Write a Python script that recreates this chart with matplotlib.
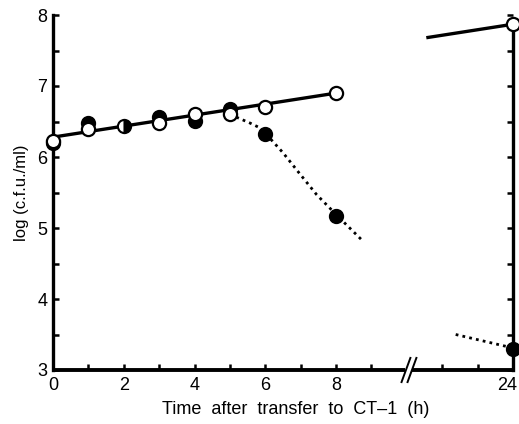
import matplotlib
matplotlib.use("Agg")
import matplotlib.pyplot as plt
import matplotlib.transforms as mtransforms
import numpy as np

plt.rcParams['font.family'] = ['Liberation Sans', 'DejaVu Sans']

# ---- data (hours, log c.f.u./ml) ----
open_t = [0, 1, 3, 4, 5, 6, 8, 24]
open_v = [6.22, 6.39, 6.48, 6.61, 6.60, 6.70, 6.90, 7.87]
filled_t = [0, 1, 3, 4, 5, 6, 8, 24]
filled_v = [6.20, 6.48, 6.57, 6.51, 6.68, 6.33, 5.17, 3.30]
half_t = [2]
half_v = [6.44]
fit_early_t = [0, 8]
fit_early_v = [6.28, 6.90]
fit_late_t = [21.55, 24]
fit_late_v = [7.68, 7.87]
decline_t = [5.0, 5.56, 5.85, 6.01, 6.50, 6.98, 7.45, 8.04, 8.73]
decline_v = [6.60, 6.48, 6.41, 6.33, 6.06, 5.76, 5.47, 5.17, 4.83]
decline_late_t = [22.38, 24]
decline_late_v = [3.50, 3.31]
xtick_major = [0, 2, 4, 6, 8, 24]
xtick_minor = [1, 3, 5, 7, 9, 22, 23]


def disp(t):
    t = np.asarray(t, dtype=float)
    return np.where(t > 15, t - 11, t)


fig = plt.figure(figsize=(5.19, 4.24), dpi=100)
ax = fig.add_axes([53 / 519, (424 - 370) / 424, 460 / 519, (370 - 15) / 424])
ax.set_xlim(0, 13)
ax.set_ylim(3, 8)

lw = 2.4
ax.plot(disp(fit_early_t), fit_early_v, color='black', lw=lw, zorder=2, solid_capstyle='butt')
ax.plot(disp(fit_late_t), fit_late_v, color='black', lw=lw, zorder=2, solid_capstyle='butt')
ax.plot(disp(decline_t), decline_v, color='black', lw=2.0, ls=(0, (1, 1.5)), zorder=2)
ax.plot(disp(decline_late_t), decline_late_v, color='black', lw=2.0, ls=(0, (1, 1.5)), zorder=2)

ms = 9.5
ax.plot(disp(filled_t), filled_v, 'o', color='black', ms=ms, mec='black', mew=1.5,
        ls='none', zorder=3, clip_on=False)
ax.plot(disp(open_t), open_v, 'o', mfc='white', mec='black', ms=ms, mew=1.6,
        ls='none', zorder=4, clip_on=False)
ax.plot(disp(half_t), half_v, 'o', mfc='black', mfcalt='white', fillstyle='right',
        mec='black', ms=ms, mew=1.5, ls='none', zorder=4, clip_on=False)

# spines
ax.spines['top'].set_visible(False)
ax.spines['bottom'].set_visible(False)
ax.spines['left'].set_linewidth(2.4)
ax.spines['right'].set_linewidth(2.4)
ax.spines['right'].set_bounds(3, 7.8)

# bottom axis with break
ax.plot([0, 9.95], [3, 3], color='black', lw=2.8, clip_on=False, zorder=5, solid_capstyle='butt')
ax.plot([10.15, 13], [3, 3], color='black', lw=2.8, clip_on=False, zorder=5, solid_capstyle='butt')
for off in [-0.05, 0.12]:
    ax.plot([9.90 + off, 10.15 + off], [2.83, 3.17], color='black', lw=1.4,
            clip_on=False, zorder=6)

ax.set_xticks(disp(xtick_major))
ax.set_xticklabels([str(t) for t in xtick_major])
ax.set_xticks(disp(xtick_minor), minor=True)
ax.set_yticks([3, 4, 5, 6, 7, 8])
ax.set_yticks(np.arange(3.5, 8, 1.0), minor=True)

ax.tick_params(axis='both', which='both', direction='in', width=1.8, length=4,
               labelsize=13, right=True, top=False)
ax.tick_params(axis='x', which='major', pad=5)
ax.tick_params(axis='y', which='major', pad=4)

# nudge the last x label ("24") left so it stays inside the figure
last = ax.get_xticklabels()[-1]
last.set_transform(last.get_transform() +
                   mtransforms.ScaledTranslation(-6 / 100, 0, fig.dpi_scale_trans))

ax.set_ylabel('log (c.f.u./ml)', fontsize=12, labelpad=6)
fig.text(296 / 519, 1 - 410 / 424, 'Time  after  transfer  to  CT\u20131  (h)',
         ha='center', va='center', fontsize=13)

fig.savefig('out.png', dpi=100)
